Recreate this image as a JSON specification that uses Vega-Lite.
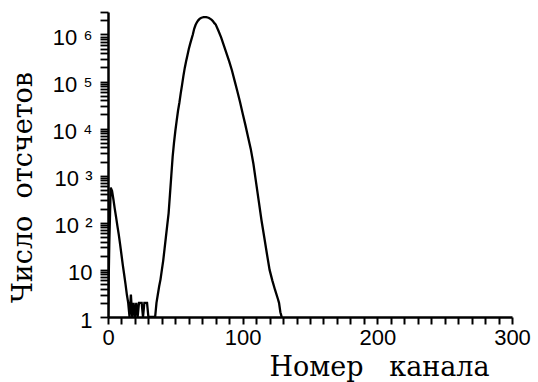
{
  "$schema": "https://vega.github.io/schema/vega-lite/v6.json",
  "width": 404,
  "height": 305,
  "autosize": {"type": "none"},
  "padding": {"left": 108, "top": 12, "right": 26, "bottom": 65},
  "background": "white",
  "config": {
    "view": {"stroke": null}
  },
  "data": {"values": [
    {"ch": 0, "n": 1}, {"ch": 1, "n": 40}, {"ch": 2, "n": 560}, {"ch": 3, "n": 480},
    {"ch": 4, "n": 316}, {"ch": 5, "n": 200}, {"ch": 6, "n": 132}, {"ch": 7, "n": 85},
    {"ch": 8, "n": 56}, {"ch": 9, "n": 35}, {"ch": 10, "n": 21}, {"ch": 11, "n": 12.6},
    {"ch": 12, "n": 8}, {"ch": 13, "n": 5}, {"ch": 14, "n": 3}, {"ch": 15, "n": 2},
    {"ch": 16, "n": 1}, {"ch": 17, "n": 3}, {"ch": 18, "n": 1}, {"ch": 19, "n": 2},
    {"ch": 20, "n": 1}, {"ch": 21, "n": 2}, {"ch": 22, "n": 1}, {"ch": 23, "n": 2},
    {"ch": 24, "n": 2}, {"ch": 25, "n": 2}, {"ch": 26, "n": 1}, {"ch": 27, "n": 2},
    {"ch": 28, "n": 2}, {"ch": 29, "n": 2}, {"ch": 30, "n": 1}, {"ch": 31, "n": 1},
    {"ch": 32, "n": 1}, {"ch": 33, "n": 1}, {"ch": 34, "n": 1}, {"ch": 35, "n": 1},
    {"ch": 36, "n": 2}, {"ch": 37, "n": 3}, {"ch": 38, "n": 4.5}, {"ch": 39, "n": 6.3},
    {"ch": 40, "n": 10}, {"ch": 41, "n": 15.8}, {"ch": 42, "n": 28}, {"ch": 43, "n": 50},
    {"ch": 44, "n": 89}, {"ch": 45, "n": 158}, {"ch": 46, "n": 398}, {"ch": 47, "n": 1000},
    {"ch": 48, "n": 2512}, {"ch": 49, "n": 5012}, {"ch": 50, "n": 8913}, {"ch": 51, "n": 14791},
    {"ch": 52, "n": 23988}, {"ch": 53, "n": 35481}, {"ch": 54, "n": 56234}, {"ch": 55, "n": 85114},
    {"ch": 56, "n": 131826}, {"ch": 57, "n": 194984}, {"ch": 58, "n": 269153}, {"ch": 59, "n": 363078},
    {"ch": 60, "n": 489779}, {"ch": 61, "n": 630957}, {"ch": 62, "n": 794328}, {"ch": 63, "n": 1000000},
    {"ch": 64, "n": 1318257}, {"ch": 65, "n": 1584893}, {"ch": 66, "n": 1819701}, {"ch": 67, "n": 1995262},
    {"ch": 68, "n": 2137962}, {"ch": 69, "n": 2238721}, {"ch": 70, "n": 2290868}, {"ch": 71, "n": 2344229},
    {"ch": 72, "n": 2344229}, {"ch": 73, "n": 2344229}, {"ch": 74, "n": 2290868}, {"ch": 75, "n": 2238721},
    {"ch": 76, "n": 2137962}, {"ch": 77, "n": 2041738}, {"ch": 78, "n": 1905461}, {"ch": 79, "n": 1737801},
    {"ch": 80, "n": 1621810}, {"ch": 82, "n": 1202264}, {"ch": 84, "n": 870964}, {"ch": 86, "n": 588844},
    {"ch": 88, "n": 398107}, {"ch": 90, "n": 269153}, {"ch": 92, "n": 173780}, {"ch": 94, "n": 104713},
    {"ch": 96, "n": 63096}, {"ch": 98, "n": 37154}, {"ch": 100, "n": 20893}, {"ch": 102, "n": 12023},
    {"ch": 104, "n": 6607}, {"ch": 106, "n": 3715}, {"ch": 108, "n": 1778}, {"ch": 110, "n": 708},
    {"ch": 112, "n": 282}, {"ch": 114, "n": 112}, {"ch": 116, "n": 50}, {"ch": 118, "n": 22},
    {"ch": 120, "n": 10}, {"ch": 122, "n": 6}, {"ch": 124, "n": 3.8}, {"ch": 126, "n": 2.5},
    {"ch": 127, "n": 2}, {"ch": 128, "n": 1.26}, {"ch": 129, "n": 1}
  ]},
  "mark": {"type": "line", "color": "black", "strokeWidth": 2.3, "clip": true, "interpolate": "linear"},
  "encoding": {
    "x": {
      "field": "ch", "type": "quantitative",
      "scale": {"domain": [0, 300], "nice": false, "zero": false},
      "axis": {
        "values": [0,10,20,30,40,50,60,70,80,90,100,110,120,130,140,150,160,170,180,190,200,210,220,230,240,250,260,270,280,290,300],
        "format": "d",
        "labelExpr": "datum.value % 100 == 0 ? datum.label : ''",
        "grid": false,
        "domainColor": "black", "domainWidth": 2.5,
        "tickColor": "black", "tickWidth": 2, "tickSize": 7,
        "labelFont": "Liberation Sans", "labelFontSize": 22, "labelColor": "black",
        "labelPadding": 3, "labelFlush": false, "labelOverlap": false,
        "title": "Номер\u00a0\u00a0\u00a0канала",
        "titleFont": "DejaVu Serif", "titleFontSize": 27, "titleFontWeight": "normal",
        "titleColor": "black",
        "titleX": 271, "titleY": 58, "titleAnchor": null, "titleAlign": "center", "titleBaseline": "alphabetic"
      }
    },
    "y": {
      "field": "n", "type": "quantitative",
      "scale": {"type": "log", "domain": [1, 3000000], "nice": false},
      "axis": {
        "values": [1,2,3,4,5,6,7,8,9,10,20,30,40,50,60,70,80,90,100,200,300,400,500,600,700,800,900,1000,2000,3000,4000,5000,6000,7000,8000,9000,10000,20000,30000,40000,50000,60000,70000,80000,90000,100000,200000,300000,400000,500000,600000,700000,800000,900000,1000000,2000000,3000000],
        "labelExpr": "datum.value == 1 ? '1' : datum.value == 10 ? '10' : datum.value == 100 ? '10 ²' : datum.value == 1000 ? '10 ³' : datum.value == 10000 ? '10 ⁴' : datum.value == 100000 ? '10 ⁵' : datum.value == 1000000 ? '10 ⁶' : ''",
        "grid": false,
        "domainColor": "black", "domainWidth": 2.5,
        "tickColor": "black", "tickWidth": 1.8, "tickSize": 8,
        "labelFont": "Liberation Sans", "labelFontSize": 22, "labelColor": "black",
        "labelPadding": 8, "labelFlush": false, "labelOverlap": false, "labelOffset": 3,
        "title": "Число\u00a0\u00a0отсчетов",
        "titleFont": "DejaVu Serif", "titleFontSize": 27, "titleFontWeight": "normal",
        "titleColor": "black", "titleAngle": -90,
        "titleX": -85, "titleY": 175, "titleAnchor": null, "titleAlign": "center", "titleBaseline": "middle"
      }
    }
  }
}
